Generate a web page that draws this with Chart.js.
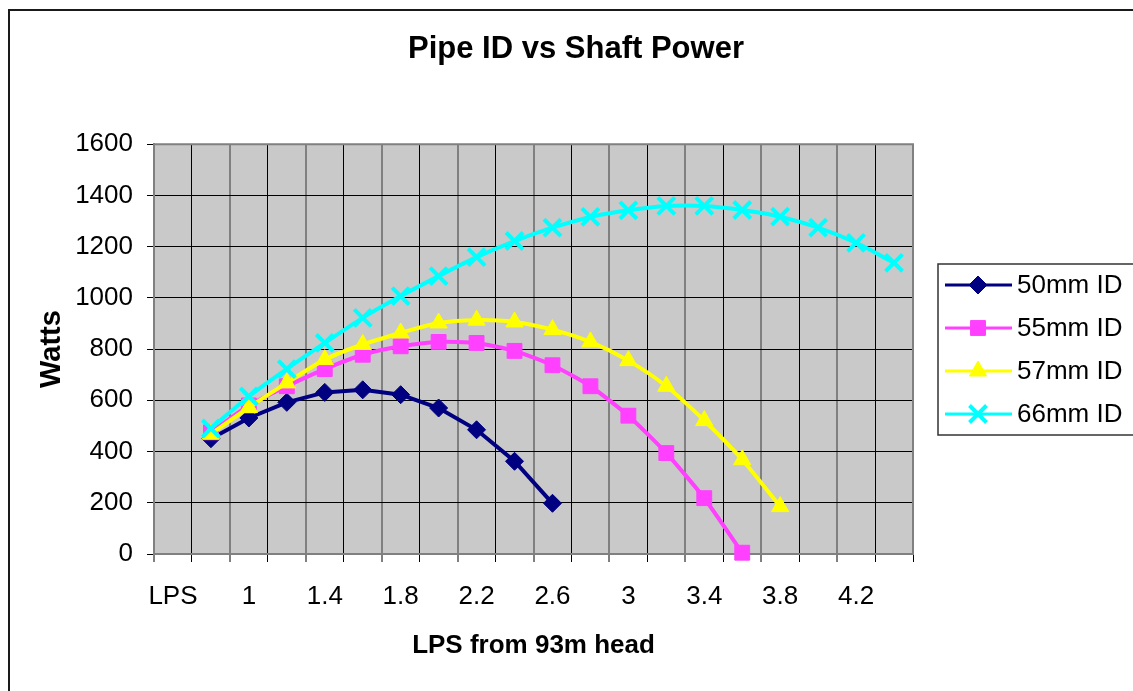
<!DOCTYPE html>
<html>
<head>
<meta charset="utf-8">
<title>Pipe ID vs Shaft Power</title>
<script src="https://cdn.jsdelivr.net/npm/chart.js@4/dist/chart.umd.min.js"></script>
<style>
    html, body { margin: 0; padding: 0; background: #ffffff; }
</style>
</head>
<body>
<canvas id="potenciaChart" width="1133" height="691"></canvas>
<script>
// categorias del eje X (la primera es solo la etiqueta "LPS")
var categorias = ['LPS', '0.8', '1', '1.2', '1.4', '1.6', '1.8', '2', '2.2', '2.4',
    '2.6', '2.8', '3', '3.2', '3.4', '3.6', '3.8', '4', '4.2', '4.4'];

var nombres = ['50mm ID', '55mm ID', '57mm ID', '66mm ID'];

// Watts
var tubo50 = [null, 450, 531, 592, 631, 641, 622, 570, 485, 362, 198];
var tubo55 = [null, 475, 580, 655, 722, 778, 811, 828, 824, 793, 737, 655, 540, 394, 218, 5];
var tubo57 = [null, 468, 572, 668, 759, 818, 863, 902, 913, 906, 876, 828, 755, 655, 521, 368, 185];
var tubo66 = [null, 490, 615, 722, 824, 922, 1007, 1085, 1159, 1222, 1274, 1316, 1342, 1359,
    1359, 1343, 1317, 1274, 1215, 1137];

var ejeY = { min: 0, max: 1600, paso: 200 };

Chart.defaults.font.family = "'Liberation Sans', Arial, sans-serif";
Chart.defaults.color = '#000000';

var fondo = {
    id: 'fondo',
    beforeDraw: function(chart) {
        var ctx = chart.ctx;
        var a = chart.chartArea;
        ctx.save();
        ctx.fillStyle = '#ffffff';
        ctx.fillRect(0, 0, chart.width, chart.height);
        ctx.strokeStyle = '#1a1a1a';
        ctx.lineWidth = 2;
        ctx.strokeRect(9, 10, 1300, 900);
        ctx.fillStyle = '#c9c9c9';
        ctx.fillRect(a.left, a.top, a.right - a.left, a.bottom - a.top);
        ctx.restore();
    },
    beforeDatasetsDraw: function(chart) {
        var ctx = chart.ctx;
        var a = chart.chartArea;
        ctx.save();
        ctx.strokeStyle = '#808080';
        ctx.lineWidth = 2;
        ctx.beginPath();
        ctx.moveTo(a.left, a.top);
        ctx.lineTo(a.right, a.top);
        ctx.lineTo(a.right, a.bottom);
        ctx.stroke();
        ctx.restore();
    },
    afterDraw: function(chart) {
        // leyenda estilo Excel: linea con el marcador en medio
        var ctx = chart.ctx;
        ctx.save();
        ctx.strokeStyle = '#333333';
        ctx.lineWidth = 1.5;
        ctx.strokeRect(938, 264, 250, 171);
        chart.data.datasets.forEach(function(ds, i) {
            var y = 285 + i * 43;
            ctx.strokeStyle = ds.borderColor;
            ctx.lineWidth = 3;
            ctx.beginPath();
            ctx.moveTo(945, y);
            ctx.lineTo(1012, y);
            ctx.stroke();
            ctx.fillStyle = ds.pointBackgroundColor;
            ctx.strokeStyle = ds.pointBorderColor;
            ctx.lineWidth = ds.pointBorderWidth;
            Chart.helpers.drawPoint(ctx, {
                pointStyle: ds.pointStyle,
                radius: ds.pointRadius,
                borderWidth: ds.pointBorderWidth,
                rotation: 0
            }, 978, y);
            ctx.fillStyle = '#000000';
            ctx.font = "26px 'Liberation Sans', Arial, sans-serif";
            ctx.textBaseline = 'middle';
            ctx.textAlign = 'left';
            ctx.fillText(ds.label, 1017, y + 1);
        });
        ctx.restore();
    }
};

function serie(nombre, datos, color, estilo, radio, ancho, curva, orden) {
    return {
        label: nombre,
        data: datos,
        borderColor: color,
        backgroundColor: color,
        borderWidth: 4,
        tension: curva,
        pointStyle: estilo,
        pointRadius: radio,
        pointHoverRadius: radio,
        pointBackgroundColor: color,
        pointBorderColor: color,
        pointBorderWidth: ancho,
        clip: false,
        order: orden
    };
}

window.onload = function() {
    var ctx = document.getElementById('potenciaChart').getContext('2d');
    var chart = new Chart(ctx, {
        type: 'line',
        data: {
            labels: categorias,
            datasets: [
                serie(nombres[0], tubo50, '#000080', 'rectRot', 9, 1, 0, 3),
                serie(nombres[1], tubo55, '#ff40ff', 'rect', 10.5, 1, 0.2, 2),
                serie(nombres[2], tubo57, '#ffff00', 'triangle', 10, 1, 0.3, 1),
                serie(nombres[3], tubo66, '#00ffff', 'crossRot', 12, 4, 0.3, 0)
            ]
        },
        options: {
            responsive: false,
            animation: false,
            events: [],
            layout: { padding: { left: 19, right: 0, top: 0, bottom: 0 } },
            plugins: {
                legend: { display: false },
                tooltip: { enabled: false },
                title: {
                    display: true,
                    text: 'Pipe ID vs Shaft Power',
                    color: '#000000',
                    font: { size: 31, weight: 'bold' },
                    padding: { top: 31, bottom: 76 }
                }
            },
            scales: {
                x: {
                    offset: true,
                    grid: {
                        offset: true,
                        color: function(c) { return c.index % 2 === 0 ? '#808080' : '#000000'; },
                        lineWidth: function(c) { return c.index % 2 === 0 ? 2 : 1; },
                        tickLength: 8,
                        tickColor: '#000000',
                        tickWidth: 1
                    },
                    border: { color: '#808080', width: 2 },
                    ticks: {
                        autoSkip: false,
                        maxRotation: 0,
                        color: '#000000',
                        padding: 19,
                        font: { size: 26 },
                        callback: function(v, i) {
                            return i % 2 === 0 ? this.getLabelForValue(v) : '';
                        }
                    },
                    title: {
                        display: true,
                        text: 'LPS from 93m head',
                        color: '#000000',
                        font: { size: 26, weight: 'bold' },
                        padding: { top: 0, bottom: 30 }
                    },
                    afterFit: function(s) { s.height = 137; }
                },
                y: {
                    min: ejeY.min,
                    max: ejeY.max,
                    grid: {
                        color: '#000000',
                        lineWidth: 1,
                        tickLength: 7,
                        tickColor: '#000000'
                    },
                    border: { color: '#808080', width: 2 },
                    ticks: {
                        stepSize: ejeY.paso,
                        color: '#000000',
                        padding: 14,
                        font: { size: 26 },
                        callback: function(v) { return String(v); }
                    },
                    title: {
                        display: true,
                        text: 'Watts',
                        color: '#000000',
                        font: { size: 29, weight: 'bold' },
                        padding: { top: 16, bottom: 0 }
                    },
                    afterFit: function(s) { s.width = 135; }
                },
                derecha: {
                    type: 'linear',
                    position: 'right',
                    grid: { display: false },
                    border: { display: false },
                    ticks: { display: false },
                    afterFit: function(s) { s.width = 220; }
                }
            }
        },
        plugins: [fondo]
    });
};
</script>
</body>
</html>
